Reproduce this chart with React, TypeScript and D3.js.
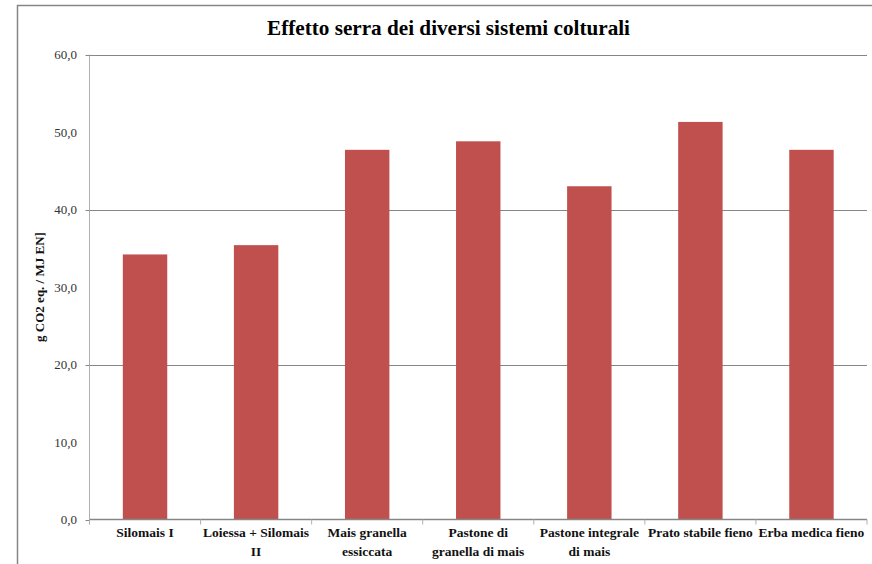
import { useEffect, useRef } from 'react'
import * as d3 from 'd3'

const categories = [
    ['Silomais I'],
    ['Loiessa + Silomais', 'II'],
    ['Mais granella', 'essiccata'],
    ['Pastone di', 'granella di mais'],
    ['Pastone integrale', 'di mais'],
    ['Prato stabile fieno'],
    ['Erba medica fieno'],
]
const values = [34.2, 35.4, 47.7, 48.8, 43.0, 51.3, 47.7]
const yTicks = [0, 10, 20, 30, 40, 50, 60]
const gridTicks = [0, 20, 40, 60]

const WIDTH = 872
const HEIGHT = 564

export default function App() {
    const svgRef = useRef<SVGSVGElement>(null)

    useEffect(() => {
        const svg = d3.select(svgRef.current)
        svg.selectAll('*').remove()

        const left = 89.5
        const right = 867
        const top = 54.5
        const bottom = 519.5
        const serif = '"Liberation Serif", "Times New Roman", serif'

        svg.append('rect')
            .attr('width', WIDTH)
            .attr('height', HEIGHT)
            .attr('fill', '#fff')

        // outer chart frame
        svg.append('path')
            .attr('d', `M17.5,${HEIGHT} V5.5 H${WIDTH}`)
            .attr('fill', 'none')
            .attr('stroke', '#868686')
            .attr('stroke-width', 1.5)

        const x = d3.scaleBand()
            .domain(categories.map((_, i) => String(i)))
            .range([left, right])
            .paddingInner(0.6)
            .paddingOuter(0.3)

        const y = d3.scaleLinear()
            .domain([0, 60])
            .range([bottom, top])

        // horizontal grid
        svg.append('g')
            .selectAll('line')
            .data(gridTicks.filter(d => d > 0))
            .enter().append('line')
            .attr('x1', left)
            .attr('x2', right)
            .attr('y1', d => Math.round(y(d)) + 0.5)
            .attr('y2', d => Math.round(y(d)) + 0.5)
            .attr('stroke', '#868686')
            .attr('stroke-width', 1)

        // y axis line and ticks
        svg.append('line')
            .attr('x1', left).attr('x2', left)
            .attr('y1', top).attr('y2', bottom + 5)
            .attr('stroke', '#b0b0b0')
        svg.append('g')
            .selectAll('line')
            .data(gridTicks)
            .enter().append('line')
            .attr('x1', left - 4)
            .attr('x2', left)
            .attr('y1', d => Math.round(y(d)) + 0.5)
            .attr('y2', d => Math.round(y(d)) + 0.5)
            .attr('stroke', '#868686')

        svg.append('g')
            .selectAll('text')
            .data(yTicks)
            .enter().append('text')
            .attr('x', 77)
            .attr('y', d => y(d) + 4.5)
            .attr('text-anchor', 'end')
            .attr('font-family', serif)
            .attr('font-size', 13)
            .attr('fill', '#333')
            .text(d => d.toFixed(1).replace('.', ','))

        // bars
        svg.append('g')
            .selectAll('rect')
            .data(values)
            .enter().append('rect')
            .attr('x', (_, i) => x(String(i))!)
            .attr('y', d => y(d))
            .attr('width', x.bandwidth())
            .attr('height', d => y(0) - y(d))
            .attr('fill', '#c0504d')

        // x axis line and ticks
        svg.append('line')
            .attr('x1', left).attr('x2', right)
            .attr('y1', bottom).attr('y2', bottom)
            .attr('stroke', '#868686')
            .attr('stroke-width', 1.5)
        const step = x.step()
        svg.append('g')
            .selectAll('line')
            .data(d3.range(categories.length + 1))
            .enter().append('line')
            .attr('x1', i => left + i * step)
            .attr('x2', i => left + i * step)
            .attr('y1', bottom)
            .attr('y2', bottom + 5)
            .attr('stroke', '#b0b0b0')

        // x labels
        const labels = svg.append('g')
            .selectAll('text')
            .data(categories)
            .enter().append('text')
            .attr('x', (_, i) => x(String(i))! + x.bandwidth() / 2)
            .attr('y', 537)
            .attr('text-anchor', 'middle')
            .attr('font-family', serif)
            .attr('font-weight', 'bold')
            .attr('font-size', 13.5)
            .attr('fill', '#111')
        labels.selectAll('tspan')
            .data(d => d)
            .enter().append('tspan')
            .attr('x', function () { return (this.parentNode as SVGTextElement).getAttribute('x') })
            .attr('dy', (_, j) => j === 0 ? 0 : 19)
            .text(d => d)

        // y axis title
        svg.append('text')
            .attr('transform', `translate(44, ${(top + bottom) / 2}) rotate(-90)`)
            .attr('text-anchor', 'middle')
            .attr('font-family', serif)
            .attr('font-weight', 'bold')
            .attr('font-size', 13)
            .attr('fill', '#111')
            .text('g CO2 eq. / MJ EN]')

        // chart title
        svg.append('text')
            .attr('x', 448.5)
            .attr('y', 35)
            .attr('text-anchor', 'middle')
            .attr('font-family', serif)
            .attr('font-weight', 'bold')
            .attr('font-size', 21)
            .attr('textLength', 363)
            .attr('lengthAdjust', 'spacingAndGlyphs')
            .attr('fill', '#000')
            .text('Effetto serra dei diversi sistemi colturali')
    }, [])

    return (
        <div style={{ position: 'absolute', left: 0, top: 0 }}>
            <svg ref={svgRef} width={WIDTH} height={HEIGHT} style={{ display: 'block' }} />
        </div>
    )
}
